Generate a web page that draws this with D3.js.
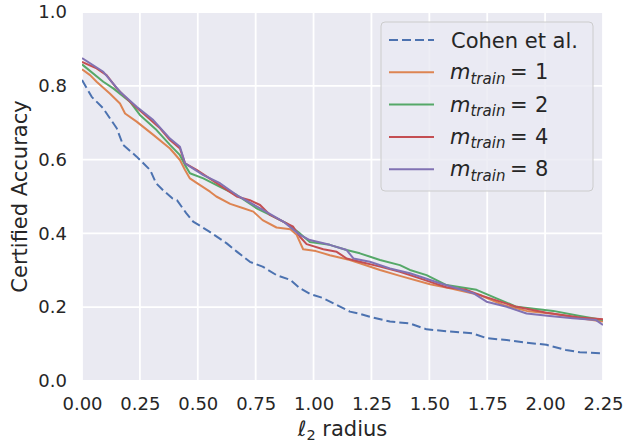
<!DOCTYPE html>
<html>
<head>
<meta charset="utf-8">
<script src="https://cdn.jsdelivr.net/npm/d3@7"></script>
<style>
  html, body { margin: 0; padding: 0; background: #fff; }
  svg { display: block; }
  text { font-family: "DejaVu Sans", sans-serif; fill: #262626; }
</style>
</head>
<body>
<svg id="chart" width="626" height="442"></svg>
<script>
// values
const xTicks = [0, 0.25, 0.5, 0.75, 1.0, 1.25, 1.5, 1.75, 2.0, 2.25];
const yTicks = [0, 0.2, 0.4, 0.6, 0.8, 1.0];

const cohenR = [0, 0.042, 0.09, 0.15, 0.177, 0.236, 0.294, 0.32, 0.35, 0.39, 0.41, 0.45, 0.48, 0.55, 0.625, 0.67, 0.725, 0.78, 0.84, 0.9, 0.94, 0.985, 1.04, 1.1, 1.157, 1.2, 1.243, 1.33, 1.416, 1.488, 1.589, 1.688, 1.747, 1.834, 1.92, 2.006, 2.09, 2.15, 2.25];
const cohenV = [0.816, 0.77, 0.74, 0.685, 0.64, 0.608, 0.572, 0.536, 0.517, 0.495, 0.49, 0.455, 0.432, 0.405, 0.373, 0.35, 0.323, 0.31, 0.287, 0.274, 0.252, 0.236, 0.225, 0.206, 0.188, 0.182, 0.174, 0.161, 0.156, 0.14, 0.134, 0.129, 0.116, 0.111, 0.104, 0.098, 0.084, 0.078, 0.075];

const m1R = [0, 0.035, 0.063, 0.12, 0.164, 0.186, 0.236, 0.308, 0.38, 0.423, 0.445, 0.466, 0.495, 0.553, 0.58, 0.64, 0.697, 0.74, 0.78, 0.84, 0.9, 0.927, 0.955, 1.01, 1.07, 1.157, 1.2, 1.287, 1.373, 1.503, 1.589, 1.718, 1.82, 1.92, 2.035, 2.15, 2.25];
const m1V = [0.845, 0.829, 0.811, 0.779, 0.752, 0.725, 0.703, 0.667, 0.63, 0.599, 0.572, 0.549, 0.537, 0.513, 0.5, 0.48, 0.468, 0.459, 0.436, 0.416, 0.411, 0.396, 0.357, 0.352, 0.341, 0.328, 0.319, 0.301, 0.285, 0.262, 0.251, 0.233, 0.206, 0.19, 0.182, 0.17, 0.161];

const m2R = [0, 0.092, 0.135, 0.207, 0.25, 0.322, 0.38, 0.423, 0.445, 0.466, 0.524, 0.596, 0.668, 0.754, 0.812, 0.884, 0.941, 0.984, 1.07, 1.143, 1.2, 1.287, 1.373, 1.416, 1.488, 1.574, 1.704, 1.79, 1.877, 2.035, 2.15, 2.25];
const m2V = [0.858, 0.811, 0.793, 0.757, 0.721, 0.68, 0.64, 0.612, 0.585, 0.563, 0.549, 0.526, 0.504, 0.468, 0.45, 0.427, 0.4, 0.377, 0.369, 0.355, 0.346, 0.328, 0.314, 0.301, 0.287, 0.26, 0.247, 0.224, 0.201, 0.19, 0.176, 0.165];

const m4R = [0, 0.063, 0.106, 0.15, 0.207, 0.265, 0.337, 0.38, 0.423, 0.445, 0.495, 0.58, 0.668, 0.725, 0.769, 0.812, 0.869, 0.912, 0.941, 0.97, 1.042, 1.1, 1.143, 1.2, 1.287, 1.373, 1.459, 1.574, 1.66, 1.732, 1.877, 2.006, 2.15, 2.25];
const m4V = [0.865, 0.847, 0.829, 0.793, 0.757, 0.725, 0.685, 0.653, 0.63, 0.59, 0.572, 0.537, 0.5, 0.49, 0.477, 0.45, 0.432, 0.418, 0.391, 0.371, 0.357, 0.35, 0.332, 0.323, 0.31, 0.296, 0.278, 0.254, 0.247, 0.23, 0.201, 0.185, 0.172, 0.167];

const m8R = [0, 0.092, 0.164, 0.236, 0.308, 0.38, 0.423, 0.445, 0.524, 0.596, 0.668, 0.783, 0.869, 0.941, 0.984, 1.07, 1.143, 1.172, 1.243, 1.33, 1.416, 1.546, 1.69, 1.747, 1.834, 1.92, 2.02, 2.12, 2.22, 2.25];
const m8V = [0.875, 0.838, 0.784, 0.743, 0.707, 0.657, 0.635, 0.59, 0.558, 0.536, 0.504, 0.463, 0.432, 0.396, 0.382, 0.369, 0.355, 0.332, 0.323, 0.305, 0.292, 0.265, 0.238, 0.215, 0.201, 0.183, 0.176, 0.17, 0.165, 0.152];

const seriesNames = ["Cohen et al.", "1", "2", "4", "8"];
const seriesR = [cohenR, m1R, m2R, m4R, m8R];
const seriesV = [cohenV, m1V, m2V, m4V, m8V];
const seriesColors = ["#4C72B0", "#DD8452", "#55A868", "#C44E52", "#8172B3"];

const svg = d3.select("#chart");
const margin = { left: 82, top: 12, right: 23, bottom: 61 };
const W = 626, H = 442;
const iw = W - margin.left - margin.right;
const ih = H - margin.top - margin.bottom;

const x = d3.scaleLinear().domain([0, 2.25]).range([0, iw]);
const y = d3.scaleLinear().domain([0, 1]).range([ih, 0]);

const g = svg.append("g").attr("transform", `translate(${margin.left},${margin.top})`);

g.append("rect").attr("width", iw).attr("height", ih).attr("fill", "#EAEAF2");

// grid
g.append("g").selectAll("line").data(xTicks).join("line")
  .attr("x1", d => x(d)).attr("x2", d => x(d))
  .attr("y1", 0).attr("y2", ih)
  .attr("stroke", "#fff").attr("stroke-width", 1.8);
g.append("g").selectAll("line").data(yTicks).join("line")
  .attr("x1", 0).attr("x2", iw)
  .attr("y1", d => y(d)).attr("y2", d => y(d))
  .attr("stroke", "#fff").attr("stroke-width", 1.8);

// axes (labels only, no spines)
const xAxis = g.append("g").attr("transform", `translate(0,${ih})`)
  .call(d3.axisBottom(x).tickValues(xTicks).tickFormat(d3.format(".2f")).tickSize(0).tickPadding(16));
const yAxis = g.append("g")
  .call(d3.axisLeft(y).tickValues(yTicks).tickFormat(d3.format(".1f")).tickSize(0).tickPadding(15));
[xAxis, yAxis].forEach(a => {
  a.select(".domain").remove();
  a.selectAll("text").attr("font-family", "DejaVu Sans").attr("font-size", 18).attr("fill", "#262626");
});

// clip
svg.append("defs").append("clipPath").attr("id", "clip")
  .append("rect").attr("width", iw).attr("height", ih);

const line = d3.line().x(d => x(d[0])).y(d => y(d[1]));

const lines = g.append("g").attr("clip-path", "url(#clip)");
seriesR.forEach((rs, i) => {
  const pts = rs.map((r, j) => [r, seriesV[i][j]]);
  lines.append("path").datum(pts)
    .attr("d", line)
    .attr("fill", "none")
    .attr("stroke", seriesColors[i])
    .attr("stroke-width", 2)
    .attr("stroke-dasharray", i === 0 ? "9,4" : null)
    .attr("stroke-linejoin", "round");
});

// axis labels
svg.append("text")
  .attr("x", margin.left + iw / 2).attr("y", 436)
  .attr("text-anchor", "middle").attr("font-size", 21)
  .html('<tspan font-style="italic">ℓ</tspan><tspan font-size="14.5" dy="4">2</tspan><tspan dy="-4"> radius</tspan>');

svg.append("text")
  .attr("transform", `translate(27,${margin.top + ih / 2}) rotate(-90)`)
  .attr("text-anchor", "middle").attr("font-size", 21)
  .text("Certified Accuracy");

// legend
const lg = svg.append("g");
lg.append("rect")
  .attr("x", 381).attr("y", 22).attr("width", 212).attr("height", 169)
  .attr("rx", 4).attr("fill", "#EAEAF2").attr("fill-opacity", 0.8)
  .attr("stroke", "#cccccc").attr("stroke-width", 1);

seriesNames.forEach((name, i) => {
  const ly = 40 + i * 32.3;
  lg.append("line")
    .attr("x1", 389).attr("x2", 434).attr("y1", ly).attr("y2", ly)
    .attr("stroke", seriesColors[i]).attr("stroke-width", 2)
    .attr("stroke-dasharray", i === 0 ? "9,4" : null);
  const tx = 451;
  if (i === 0) {
    lg.append("text").attr("x", tx).attr("y", ly + 8).attr("font-size", 21).text(name);
  } else {
    lg.append("text").attr("x", tx - 1).attr("y", ly + 7).attr("font-size", 21)
      .html('<tspan font-style="italic">m</tspan><tspan font-style="italic" font-size="15" dy="4.5">train</tspan>');
    lg.append("text").attr("x", tx + 59).attr("y", ly + 7).attr("font-size", 21).text("=");
    lg.append("text").attr("x", tx + 84).attr("y", ly + 7).attr("font-size", 21).text(name);
  }
});
</script>
</body>
</html>
